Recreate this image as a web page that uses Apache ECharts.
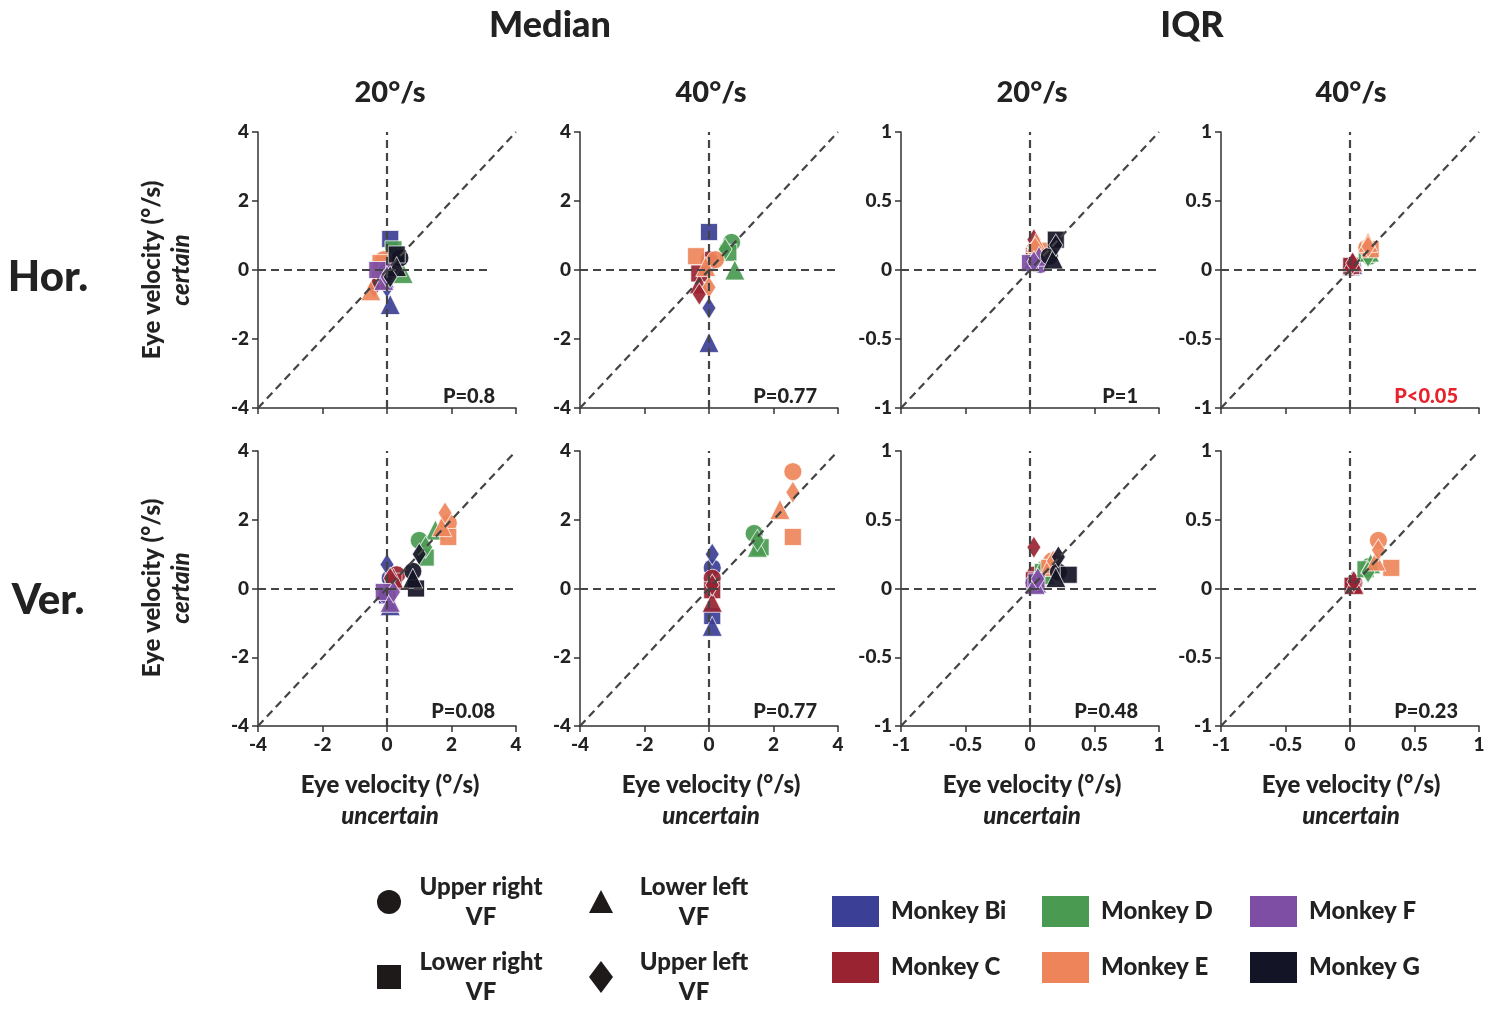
<!DOCTYPE html>
<html><head><meta charset="utf-8">
<script src="https://cdn.jsdelivr.net/npm/echarts@6/dist/echarts.min.js"></script>
<style>html,body{margin:0;padding:0;background:#fff}#c{width:1502px;height:1010px}</style>
</head><body><div id="c"></div>
<script>
// ---- data ----
const monkeys = ['Bi', 'C', 'D', 'E', 'F', 'G'];
const monkeyColors = ['#3b3f95', '#9a2332', '#4a9a52', '#ee855a', '#7d4ea3', '#131425'];
const vfNames = ['Upper right', 'Lower right', 'Lower left', 'Upper left'];
const vfSymbols = ['circle', 'rect', 'triangle', 'diamond'];
const medianTicks = [-4, -2, 0, 2, 4];
const iqrTicks = [-1, -0.5, 0, 0.5, 1];
// each row: monkey; points in order [UR, LR, LL, UL] as [x(uncertain), y(certain)]
const horMed20 = [
  [[0.2, 0.3], [0.1, 0.9], [0.1, -1.0], [0.0, -0.5]],
  [[0.1, 0.1], [-0.2, 0.0], [-0.3, -0.3], [-0.4, -0.5]],
  [[0.3, 0.3], [0.2, 0.6], [0.5, -0.1], [0.2, 0.2]],
  [[-0.1, 0.3], [-0.2, 0.2], [-0.5, -0.6], [-0.2, -0.1]],
  [[0.0, 0.0], [-0.3, 0.0], [-0.1, -0.3], [0.0, -0.2]],
  [[0.4, 0.35], [0.3, 0.45], [0.3, 0.1], [0.1, -0.2]]
];
const horMed40 = [
  [[0.0, 0.2], [0.0, 1.1], [0.0, -2.1], [0.0, -1.1]],
  [[0.0, 0.3], [-0.3, -0.1], [-0.3, -0.4], [-0.3, -0.7]],
  [[0.7, 0.8], [0.6, 0.5], [0.8, 0.0], [0.5, 0.6]],
  [[0.2, 0.3], [-0.4, 0.4], [-0.1, 0.1], [0.0, -0.5]],
  null,
  null
];
const horIqr20 = [
  [[0.05, 0.12], [0.04, 0.1], [0.03, 0.08], [0.05, 0.1]],
  [[0.04, 0.15], [0.03, 0.1], [0.04, 0.2], [0.03, 0.22]],
  [[0.06, 0.1], [0.05, 0.12], [0.07, 0.08], [0.06, 0.06]],
  [[0.05, 0.15], [0.09, 0.14], [0.05, 0.2], [0.04, 0.16]],
  [[0.08, 0.04], [0.0, 0.05], [0.07, 0.1], [0.03, 0.06]],
  [[0.15, 0.1], [0.2, 0.22], [0.18, 0.08], [0.2, 0.18]]
];
const horIqr40 = [
  [[0.02, 0.03], [0.01, 0.02], [0.02, 0.04], [0.02, 0.05]],
  [[0.01, 0.02], [0.01, 0.03], [0.02, 0.06], [0.02, 0.05]],
  [[0.15, 0.1], [0.13, 0.12], [0.15, 0.13], [0.14, 0.1]],
  [[0.13, 0.16], [0.16, 0.15], [0.14, 0.2], [0.14, 0.17]],
  null,
  null
];
const verMed20 = [
  [[0.1, 0.3], [0.0, -0.2], [0.1, -0.5], [0.0, 0.7]],
  [[0.3, 0.4], [0.2, 0.2], [0.2, 0.3], [0.1, 0.3]],
  [[1.0, 1.4], [1.2, 0.9], [1.5, 1.7], [1.2, 1.2]],
  [[1.9, 1.9], [1.9, 1.5], [1.7, 1.8], [1.8, 2.2]],
  [[0.0, -0.2], [-0.1, -0.1], [0.1, -0.4], [0.2, -0.1]],
  [[0.8, 0.5], [0.9, 0.0], [0.8, 0.3], [1.0, 1.0]]
];
const verMed40 = [
  [[0.1, 0.6], [0.1, -0.8], [0.1, -1.1], [0.1, 1.0]],
  [[0.1, 0.3], [0.1, -0.05], [0.1, -0.4], [0.1, 0.1]],
  [[1.4, 1.6], [1.6, 1.2], [1.5, 1.2], [1.5, 1.4]],
  [[2.6, 3.4], [2.6, 1.5], [2.2, 2.3], [2.6, 2.8]],
  null,
  null
];
const verIqr20 = [
  [[0.04, 0.06], [0.03, 0.05], [0.05, 0.04], [0.03, 0.07]],
  [[0.04, 0.1], [0.03, 0.06], [0.05, 0.08], [0.03, 0.3]],
  [[0.12, 0.15], [0.1, 0.12], [0.12, 0.1], [0.1, 0.14]],
  [[0.17, 0.2], [0.15, 0.15], [0.16, 0.18], [0.18, 0.2]],
  [[0.03, 0.04], [0.05, 0.05], [0.04, 0.03], [0.06, 0.07]],
  [[0.22, 0.12], [0.3, 0.1], [0.2, 0.08], [0.22, 0.23]]
];
const verIqr40 = [
  [[0.02, 0.03], [0.02, 0.02], [0.03, 0.04], [0.02, 0.05]],
  [[0.03, 0.04], [0.02, 0.02], [0.03, 0.03], [0.03, 0.05]],
  [[0.15, 0.16], [0.12, 0.14], [0.16, 0.18], [0.14, 0.12]],
  [[0.22, 0.35], [0.32, 0.15], [0.2, 0.2], [0.22, 0.28]],
  null,
  null
];
const pValues = ['P=0.8', 'P=0.77', 'P=1', 'P<0.05', 'P=0.08', 'P=0.77', 'P=0.48', 'P=0.23'];
const groupTitles = ['Median', 'IQR'];
const speedTitles = ['20°/s', '40°/s', '20°/s', '40°/s'];
const rowTitles = ['Hor.', 'Ver.'];

// ---- layout ----
const FONT = 'Lato, "Open Sans", sans-serif';
const panels = [horMed20, horMed40, horIqr20, horIqr40, verMed20, verMed40, verIqr20, verIqr40];
const colLeft = [258, 580, 901, 1221];
const colW = 258;
const rowTop = [132, 451];
const rowH = [276, 275];
const symSize = {circle: 18, rect: 17, triangle: 20, diamond: [14, 22]};

const grids = [], xAxes = [], yAxes = [], series = [];
panels.forEach((panel, i) => {
  const r = Math.floor(i / 4), c = i % 4;
  const isMed = c < 2;
  const ticks = isMed ? medianTicks : iqrTicks;
  const lo = ticks[0], hi = ticks[ticks.length - 1];
  const step = ticks[1] - ticks[0];
  grids.push({left: colLeft[c], top: rowTop[r], width: colW, height: rowH[r]});
  const axisCommon = {
    min: lo, max: hi, interval: step, splitLine: {show: false},
    axisLine: {show: true, onZero: false, lineStyle: {color: '#333', width: 1.5}},
    axisTick: {show: true, length: 6, lineStyle: {color: '#333', width: 1.5}},
    axisLabel: {fontFamily: FONT, fontWeight: 900, fontSize: 19, color: '#222', margin: 9}
  };
  xAxes.push(Object.assign({type: 'value', gridIndex: i, position: 'bottom'}, axisCommon,
    {axisLabel: Object.assign({}, axisCommon.axisLabel, {show: r === 1})}));
  yAxes.push(Object.assign({type: 'value', gridIndex: i, position: 'left'}, axisCommon));
  const hEnd = i === 0 ? 3.2 : hi;
  series.push({
    type: 'line', xAxisIndex: i, yAxisIndex: i, data: [], silent: true, z: 1,
    markLine: {
      silent: true, symbol: 'none', animation: false, label: {show: false},
      lineStyle: {type: [8, 5], color: '#444', width: 2.2},
      data: [
        [{coord: [lo, 0]}, {coord: [hEnd, 0]}],
        [{coord: [0, lo]}, {coord: [0, hi]}],
        [{coord: [lo, lo]}, {coord: [hi, hi]}]
      ]
    }
  });
  panel.forEach((pts, m) => {
    if (!pts) return;
    series.push({
      type: 'scatter', name: 'Monkey ' + monkeys[m], xAxisIndex: i, yAxisIndex: i, z: 3,
      itemStyle: {color: monkeyColors[m], opacity: 0.92, borderColor: 'rgba(255,255,255,0.8)', borderWidth: 1},
      data: pts.map((p, k) => ({value: p, symbol: vfSymbols[k], symbolSize: symSize[vfSymbols[k]], name: vfNames[k]}))
    });
  });
});

// ---- graphic texts & legend ----
const g = [];
function txt(text, x, y, size, opts) {
  opts = opts || {};
  g.push({type: 'text', x: x, y: y, rotation: opts.rot || 0, z: 10,
    style: {text: text, font: (opts.italic ? 'italic ' : '') + '900 ' + size + 'px ' + FONT,
      fill: opts.color || '#222', textAlign: opts.align || 'center', textVerticalAlign: 'middle'}});
}
txt(groupTitles[0], 550, 25, 36);
txt(groupTitles[1], 1192, 25, 36);
const colCenters = [390, 711, 1032, 1351];
speedTitles.forEach((s, c) => txt(s, colCenters[c], 93, 29));
txt(rowTitles[0], 48, 277, 42);
txt(rowTitles[1], 48, 600, 42);
[270, 588].forEach(yc => {
  txt('Eye velocity (°/s)', 152, yc, 24, {rot: Math.PI / 2});
  txt('certain', 181, yc, 24, {rot: Math.PI / 2, italic: true});
});
colCenters.forEach(xc => {
  txt('Eye velocity (°/s)', xc, 785, 24);
  txt('uncertain', xc, 816, 24, {italic: true});
});
pValues.forEach((p, i) => {
  const r = Math.floor(i / 4), c = i % 4;
  txt(p, colLeft[c] + 237, r === 0 ? 397 : 712, 20, {align: 'right', color: p === 'P<0.05' ? '#e8222a' : '#222'});
});
// shape legend
const shapeLegend = [[389, 902, 481], [389, 977, 481], [601, 902, 694], [601, 977, 694]];
vfSymbols.forEach((s, k) => {
  const [sx, sy, tx] = shapeLegend[k];
  if (s === 'circle') g.push({type: 'circle', shape: {cx: sx, cy: sy, r: 12}, style: {fill: '#1e1a1a'}});
  if (s === 'rect') g.push({type: 'rect', shape: {x: sx - 12, y: sy - 12, width: 24, height: 24}, style: {fill: '#1e1a1a'}});
  if (s === 'triangle') g.push({type: 'polygon', shape: {points: [[sx, sy - 12], [sx + 12, sy + 11], [sx - 12, sy + 11]]}, style: {fill: '#1e1a1a'}});
  if (s === 'diamond') g.push({type: 'polygon', shape: {points: [[sx, sy - 16], [sx + 12, sy], [sx, sy + 16], [sx - 12, sy]]}, style: {fill: '#1e1a1a'}});
  txt(vfNames[k], tx, sy - 15, 24);
  txt('VF', tx, sy + 15, 24);
});
// monkey legend
const monkeyLegendPos = [[832, 896], [832, 952], [1042, 896], [1042, 952], [1250, 896], [1250, 952]];
monkeys.forEach((m, k) => {
  const [lx, ly] = monkeyLegendPos[k];
  g.push({type: 'rect', shape: {x: lx, y: ly, width: 47, height: 31}, style: {fill: monkeyColors[k]}});
  txt('Monkey ' + m, lx + 59, ly + 15, 24, {align: 'left'});
});

const chart = echarts.init(document.getElementById('c'), null, {renderer: 'canvas'});
chart.setOption({
  animation: false,
  backgroundColor: '#fff',
  grid: grids, xAxis: xAxes, yAxis: yAxes, series: series, graphic: g
});
</script></body></html>
